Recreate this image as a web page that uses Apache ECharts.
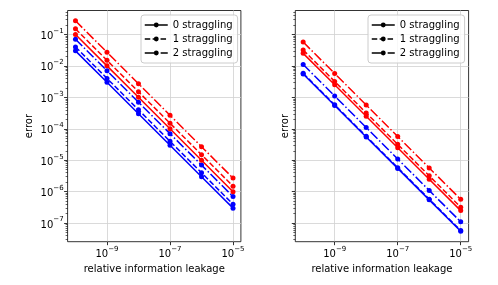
<!DOCTYPE html>
<html><head><meta charset="utf-8">
<script src="https://cdn.jsdelivr.net/npm/echarts@6/dist/echarts.min.js"></script>
<style>html,body{margin:0;padding:0;background:#fff}#c{width:498px;height:285px}</style>
</head><body><div id="c"></div>
<script>
// ---- data ----
const leakage = [1e-10, 1e-9, 1e-8, 1e-7, 1e-6, 1e-5];
const stragglingNames = ['0 straggling', '1 straggling', '2 straggling'];

// left panel
const leftBlue0 = [3e-2, 3e-3, 3e-4, 3e-5, 3e-6, 3e-7];
const leftBlue1 = [4e-2, 4e-3, 4e-4, 4e-5, 4e-6, 4e-7];
const leftBlue2 = [7e-2, 7e-3, 7e-4, 7e-5, 7e-6, 7e-7];
const leftRed0 = [1e-1, 1e-2, 1e-3, 1e-4, 1e-5, 1e-6];
const leftRed1 = [1.5e-1, 1.5e-2, 1.5e-3, 1.5e-4, 1.5e-5, 1.5e-6];
const leftRed2 = [2.7e-1, 2.7e-2, 2.7e-3, 2.7e-4, 2.7e-5, 2.7e-6];

// right panel
const rightBlue0 = [5.5e-3, 5.5e-4, 5.5e-5, 5.5e-6, 5.5e-7, 5.5e-8];
const rightBlue1 = [5.8e-3, 5.8e-4, 5.8e-5, 5.8e-6, 5.8e-7, 5.8e-8];
const rightBlue2 = [1.1e-2, 1.1e-3, 1.1e-4, 1.1e-5, 1.1e-6, 1.1e-7];
const rightRed0 = [2.5e-2, 2.5e-3, 2.5e-4, 2.5e-5, 2.5e-6, 2.5e-7];
const rightRed1 = [3.2e-2, 3.2e-3, 3.2e-4, 3.2e-5, 3.2e-6, 3.2e-7];
const rightRed2 = [5.7e-2, 5.7e-3, 5.7e-4, 5.7e-5, 5.7e-6, 5.7e-7];

// ticks
const xTicks = [1e-9, 1e-7, 1e-5];
const yTicks = [1e-7, 1e-6, 1e-5, 1e-4, 1e-3, 1e-2, 1e-1];
const yMinorTicks = [];
for (let k = -8; k <= -1; k++) for (let m = 2; m <= 9; m++) yMinorTicks.push(m * Math.pow(10, k));

const xMin = Math.pow(10, -10.25), xMax = Math.pow(10, -4.75);
const yMin = Math.pow(10, -7.59), yMax = Math.pow(10, -0.24);

// ---- chart ----
const FONT = 'DejaVu Sans';
const BLUE = '#0000ff', RED = '#ff0000';
const dashTypes = ['solid', [5.5, 2.4], [9.6, 2.4, 1.5, 2.4]];

const grids = [
  {left: 67.6, top: 10.5, width: 173.3, height: 231.2},
  {left: 295.3, top: 10.5, width: 173.3, height: 231.2}
];

function supLabel(v) {
  const e = Math.round(Math.log10(v));
  return '{b|10}{s|\u2212' + Math.abs(e) + '}';
}
const richLabel = {
  b: {fontSize: 10, fontFamily: FONT, color: '#000', verticalAlign: 'bottom', lineHeight: 14},
  s: {fontSize: 7, fontFamily: FONT, color: '#000', verticalAlign: 'top', lineHeight: 14}
};

const xAxes = [], yAxes = [], series = [];
const panels = [
  [leftBlue0, leftBlue1, leftBlue2, leftRed0, leftRed1, leftRed2],
  [rightBlue0, rightBlue1, rightBlue2, rightRed0, rightRed1, rightRed2]
];

for (let p = 0; p < 2; p++) {
  grids[p].show = true;
  grids[p].borderColor = '#000';
  grids[p].borderWidth = 0.8;
  xAxes.push({
    type: 'log', logBase: 10, gridIndex: p, min: xMin, max: xMax,
    name: 'relative information leakage', nameLocation: 'middle', nameGap: 21,
    nameTextStyle: {fontFamily: FONT, fontSize: 10, color: '#000'},
    axisLine: {show: false},
    axisTick: {show: true, length: 3.5, inside: false, customValues: xTicks, lineStyle: {color: '#000', width: 0.8}},
    axisLabel: {show: true, customValues: xTicks, formatter: supLabel, rich: richLabel, margin: 4},
    splitLine: {show: true, lineStyle: {color: '#d0d0d0', width: 0.8}},
    minorTick: {show: false}
  });
  yAxes.push({
    type: 'log', logBase: 10, gridIndex: p, min: yMin, max: yMax, position: 'left',
    name: 'error', nameLocation: 'middle', nameGap: p === 0 ? 33 : 5, nameRotate: 90,
    nameTextStyle: {fontFamily: FONT, fontSize: 10, color: '#000'},
    axisLine: {show: false},
    axisTick: {show: true, length: 3.5, customValues: yTicks, lineStyle: {color: '#000', width: 0.8}},
    axisLabel: {show: p === 0, customValues: yTicks, formatter: supLabel, rich: richLabel, margin: 4},
    splitLine: {show: true, lineStyle: {color: '#d0d0d0', width: 0.8}}
  });
}
// minor tick axes
for (let p = 0; p < 2; p++) {
  yAxes.push({
    type: 'log', logBase: 10, gridIndex: p, min: yMin, max: yMax, position: 'left', offset: 0,
    axisLine: {show: false},
    axisTick: {show: true, length: 2, customValues: yMinorTicks, lineStyle: {color: '#000', width: 0.6}},
    axisLabel: {show: false},
    splitLine: {show: false}
  });
}

for (let p = 0; p < 2; p++) {
  const arrs = panels[p];
  for (let i = 0; i < 6; i++) {
    const color = i < 3 ? BLUE : RED;
    const s = i % 3;
    series.push({
      type: 'line', name: stragglingNames[s], xAxisIndex: p, yAxisIndex: p,
      data: leakage.map((x, j) => [x, arrs[i][j]]),
      symbol: 'circle', symbolSize: 5,
      lineStyle: {color: color, width: 1.5, type: dashTypes[s]},
      itemStyle: {color: color},
      z: 3
    });
  }
}

function legendFor(left) {
  return {
    orient: 'vertical', left: left, top: 15,
    data: stragglingNames.map((n, s) => ({
      name: n,
      itemStyle: {color: '#000'},
      lineStyle: {color: '#000', type: dashTypes[s], width: 1.5}
    })),
    itemWidth: 23, itemHeight: 6, itemGap: 2,
    textStyle: {fontFamily: FONT, fontSize: 10, color: '#000', lineHeight: 12},
    padding: [4, 5, 4, 3],
    backgroundColor: 'rgba(255,255,255,0.8)',
    borderColor: '#cccccc', borderWidth: 1, borderRadius: 3,
    selectedMode: false, z: 10
  };
}

const chart = echarts.init(document.getElementById('c'), null, {renderer: 'canvas'});
chart.setOption({
  animation: false,
  backgroundColor: '#fff',
  grid: grids,
  xAxis: xAxes,
  yAxis: yAxes,
  legend: [legendFor(141), legendFor(368)],
  series: series
});
</script></body></html>
